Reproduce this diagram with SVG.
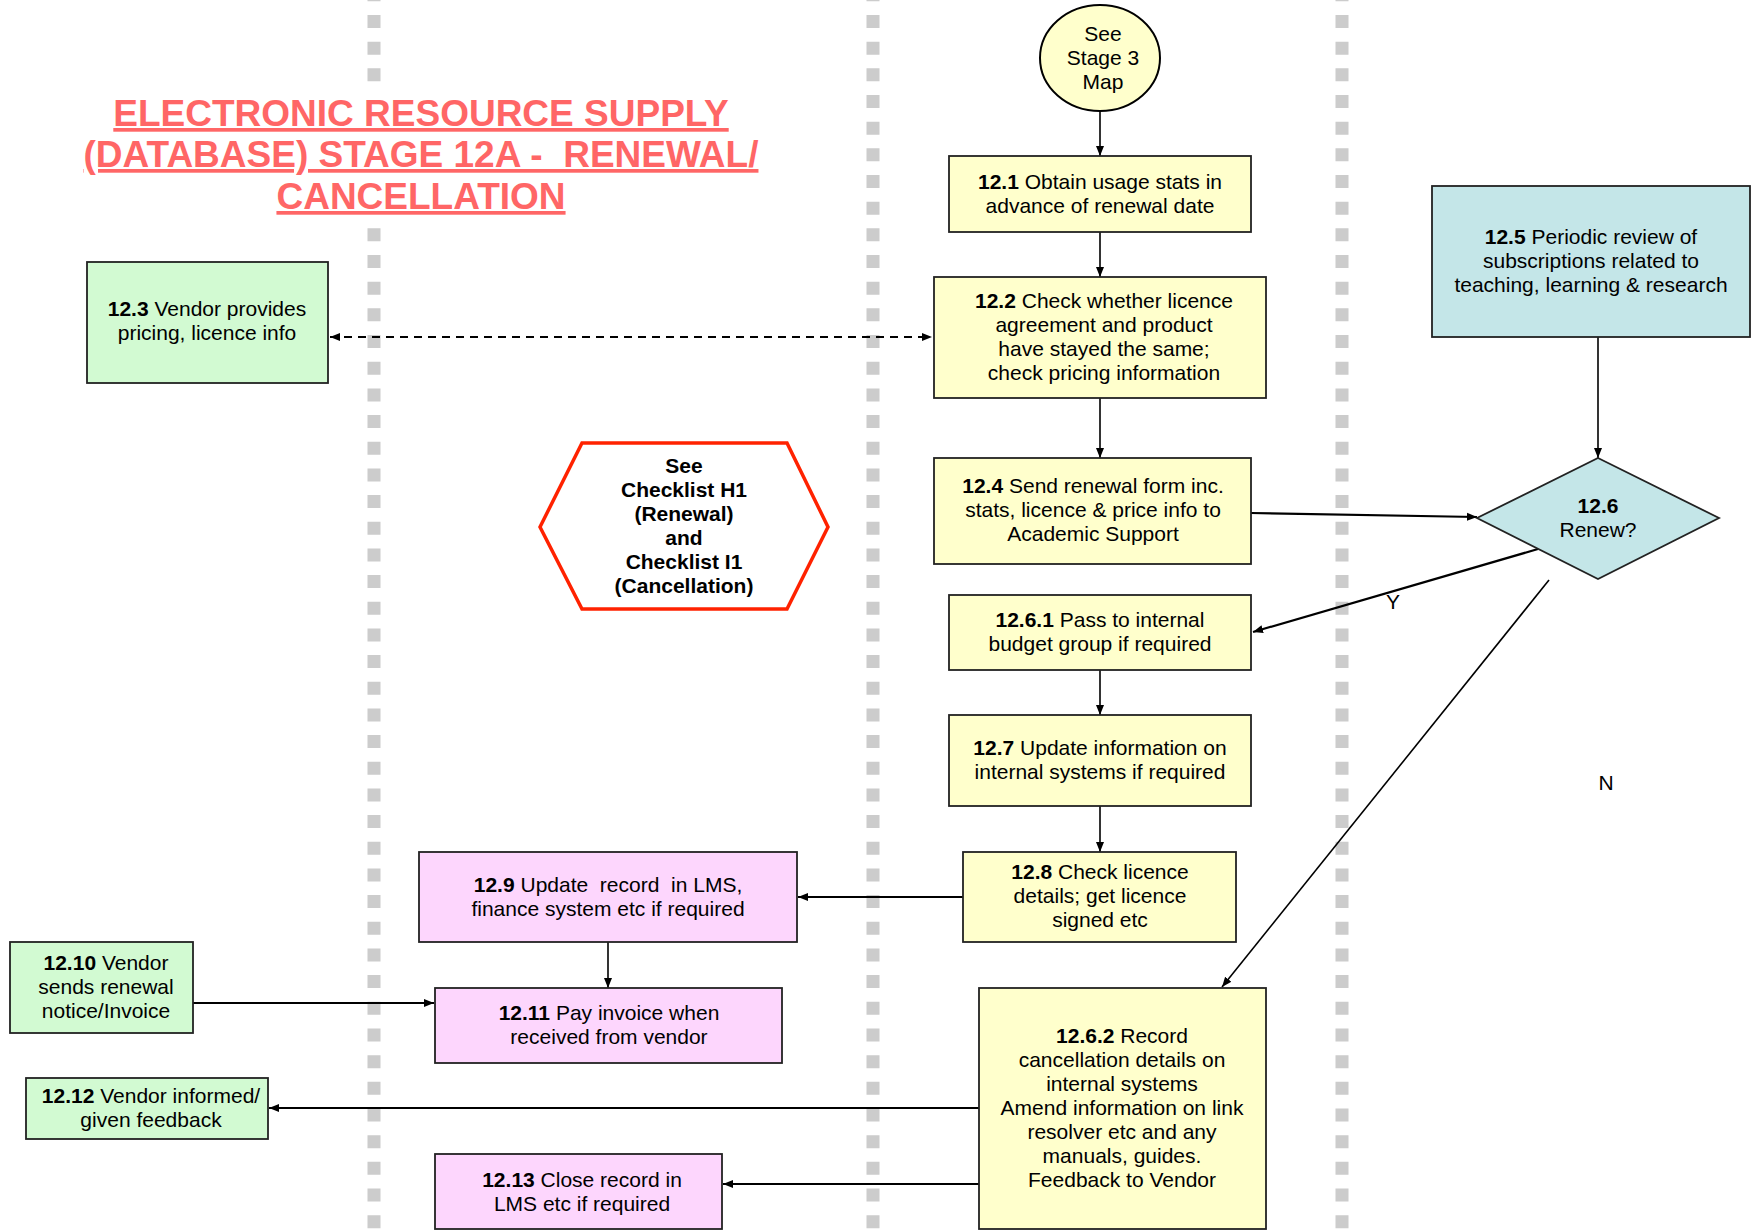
<svg xmlns="http://www.w3.org/2000/svg" width="1756" height="1231" viewBox="0 0 1756 1231">
<style>
  text { font-family: "Liberation Sans", Arial, sans-serif; font-size: 21px; fill: #000; text-anchor: middle; }
  .b { font-weight: bold; }
  .title { font-size: 37px; font-weight: bold; fill: #FF6666; text-decoration: underline; }
  .lane { stroke: #CCCCCC; stroke-width: 13; stroke-dasharray: 13 13.67; stroke-dashoffset: 11.67; fill: none; }
  .yel { fill: #FFFFCC; stroke: #222; stroke-width: 1.8; }
  .grn { fill: #D2FAD2; stroke: #222; stroke-width: 1.8; }
  .pnk { fill: #FDD6FD; stroke: #222; stroke-width: 1.8; }
  .blu { fill: #C4E6E8; stroke: #222; stroke-width: 1.8; }
  .con { stroke: #000; stroke-width: 1.6; fill: none; marker-end: url(#ah); }
  .thk { stroke-width: 2.2; }
</style>
<defs>
  <marker id="ah" viewBox="0 0 10 10" refX="10" refY="5" markerWidth="10" markerHeight="10" markerUnits="userSpaceOnUse" orient="auto">
    <path d="M0,1 L10,5 L0,9 Z" fill="#000"/>
  </marker>
  <marker id="ahs" viewBox="0 0 10 10" refX="0" refY="5" markerWidth="10" markerHeight="10" markerUnits="userSpaceOnUse" orient="auto">
    <path d="M10,1 L0,5 L10,9 Z" fill="#000"/>
  </marker>
</defs>
<rect width="1756" height="1231" fill="#FFFFFF"/>

<g id="lanes">
  <line class="lane" x1="374" y1="0" x2="374" y2="1231"/>
  <line class="lane" x1="873" y1="0" x2="873" y2="1231"/>
  <line class="lane" x1="1342" y1="0" x2="1342" y2="1231"/>
</g>

<g id="title">
  <rect x="70" y="84" width="700" height="144" fill="#FFFFFF"/>
  <text class="title" x="421" y="126">ELECTRONIC RESOURCE SUPPLY</text>
  <text class="title" x="421" y="167" xml:space="preserve">(DATABASE) STAGE 12A -  RENEWAL/</text>
  <text class="title" x="421" y="209">CANCELLATION</text>
</g>

<g id="connectors">
  <line class="con" x1="1100" y1="111" x2="1100" y2="156"/>
  <line class="con" x1="1100" y1="232" x2="1100" y2="277"/>
  <line x1="330" y1="337" x2="932" y2="337" stroke="#000" stroke-width="2" stroke-dasharray="8 6" marker-start="url(#ahs)" marker-end="url(#ah)"/>
  <line class="con" x1="1100" y1="398" x2="1100" y2="458"/>
  <line class="con" x1="1598" y1="337" x2="1598" y2="458"/>
  <line class="con thk" x1="1251" y1="513" x2="1477" y2="517"/>
  <line class="con thk" x1="1538" y1="549" x2="1253" y2="632"/>
  <line class="con" x1="1549" y1="580" x2="1222" y2="987"/>
  <line class="con" x1="1100" y1="670" x2="1100" y2="715"/>
  <line class="con" x1="1100" y1="806" x2="1100" y2="852"/>
  <line class="con thk" x1="963" y1="897" x2="798" y2="897"/>
  <line class="con" x1="608" y1="942" x2="608" y2="988"/>
  <line class="con thk" x1="193" y1="1003" x2="434" y2="1003"/>
  <line class="con thk" x1="979" y1="1108" x2="269" y2="1108"/>
  <line class="con thk" x1="979" y1="1184" x2="723" y2="1184"/>
  <text x="1393" y="609">Y</text>
  <text x="1606" y="790">N</text>
</g>

<g id="start">
  <ellipse cx="1100" cy="58" rx="60" ry="53" fill="#FFFFCC" stroke="#000" stroke-width="2"/>
  <text x="1103" y="41">See</text>
  <text x="1103" y="65">Stage 3</text>
  <text x="1103" y="89">Map</text>
</g>

<g id="n12_1">
  <rect class="yel" x="949" y="156" width="302" height="76"/>
  <text x="1100" y="189"><tspan class="b">12.1</tspan> Obtain usage stats in</text>
  <text x="1100" y="213">advance of renewal date</text>
</g>

<g id="n12_2">
  <rect class="yel" x="934" y="277" width="332" height="121" stroke-width="3"/>
  <text x="1104" y="308"><tspan class="b">12.2</tspan> Check whether licence</text>
  <text x="1104" y="332">agreement and product</text>
  <text x="1104" y="356">have stayed the same;</text>
  <text x="1104" y="380">check pricing information</text>
</g>

<g id="n12_3">
  <rect class="grn" x="87" y="262" width="241" height="121"/>
  <text x="207" y="316"><tspan class="b">12.3</tspan> Vendor provides</text>
  <text x="207" y="340">pricing, licence info</text>
</g>

<g id="n12_5">
  <rect class="blu" x="1432" y="186" width="318" height="151"/>
  <text x="1591" y="244"><tspan class="b">12.5</tspan> Periodic review of</text>
  <text x="1591" y="268">subscriptions related to</text>
  <text x="1591" y="292">teaching, learning &amp; research</text>
</g>

<g id="n12_6">
  <polygon class="blu" points="1598,458 1719,518 1598,579 1477,518"/>
  <text class="b" x="1598" y="513">12.6</text>
  <text x="1598" y="537">Renew?</text>
</g>

<g id="checklist">
  <polygon points="540,527 582,443 787,443 828,527 787,609 582,609" fill="#FFFFFF" stroke="#FF2200" stroke-width="3.5"/>
  <text class="b" x="684" y="473">See</text>
  <text class="b" x="684" y="497">Checklist H1</text>
  <text class="b" x="684" y="521">(Renewal)</text>
  <text class="b" x="684" y="545">and</text>
  <text class="b" x="684" y="569">Checklist I1</text>
  <text class="b" x="684" y="593">(Cancellation)</text>
</g>

<g id="n12_4">
  <rect class="yel" x="934" y="458" width="317" height="106"/>
  <text x="1093" y="493"><tspan class="b">12.4</tspan> Send renewal form inc.</text>
  <text x="1093" y="517">stats, licence &amp; price info to</text>
  <text x="1093" y="541">Academic Support</text>
</g>

<g id="n12_6_1">
  <rect class="yel" x="949" y="595" width="302" height="75"/>
  <text x="1100" y="627"><tspan class="b">12.6.1</tspan> Pass to internal</text>
  <text x="1100" y="651">budget group if required</text>
</g>

<g id="n12_7">
  <rect class="yel" x="949" y="715" width="302" height="91"/>
  <text x="1100" y="755"><tspan class="b">12.7</tspan> Update information on</text>
  <text x="1100" y="779">internal systems if required</text>
</g>

<g id="n12_8">
  <rect class="yel" x="963" y="852" width="273" height="90"/>
  <text x="1100" y="879"><tspan class="b">12.8</tspan> Check licence</text>
  <text x="1100" y="903">details; get licence</text>
  <text x="1100" y="927">signed etc</text>
</g>

<g id="n12_9">
  <rect class="pnk" x="419" y="852" width="378" height="90"/>
  <text x="608" y="892" xml:space="preserve"><tspan class="b">12.9</tspan> Update  record  in LMS,</text>
  <text x="608" y="916">finance system etc if required</text>
</g>

<g id="n12_10">
  <rect class="grn" x="10" y="942" width="183" height="91"/>
  <text x="106" y="970"><tspan class="b">12.10</tspan> Vendor</text>
  <text x="106" y="994">sends renewal</text>
  <text x="106" y="1018">notice/Invoice</text>
</g>

<g id="n12_11">
  <rect class="pnk" x="435" y="988" width="347" height="75"/>
  <text x="609" y="1020"><tspan class="b">12.11</tspan> Pay invoice when</text>
  <text x="609" y="1044">received from vendor</text>
</g>

<g id="n12_12">
  <rect class="grn" x="26" y="1078" width="242" height="61"/>
  <text x="151" y="1103"><tspan class="b">12.12</tspan> Vendor informed/</text>
  <text x="151" y="1127">given feedback</text>
</g>

<g id="n12_13">
  <rect class="pnk" x="435" y="1154" width="287" height="75"/>
  <text x="582" y="1187"><tspan class="b">12.13</tspan> Close record in</text>
  <text x="582" y="1211">LMS etc if required</text>
</g>

<g id="n12_6_2">
  <rect class="yel" x="979" y="988" width="287" height="241"/>
  <text x="1122" y="1043"><tspan class="b">12.6.2</tspan> Record</text>
  <text x="1122" y="1067">cancellation details on</text>
  <text x="1122" y="1091">internal systems</text>
  <text x="1122" y="1115">Amend information on link</text>
  <text x="1122" y="1139">resolver etc and any</text>
  <text x="1122" y="1163">manuals, guides.</text>
  <text x="1122" y="1187">Feedback to Vendor</text>
</g>
</svg>
